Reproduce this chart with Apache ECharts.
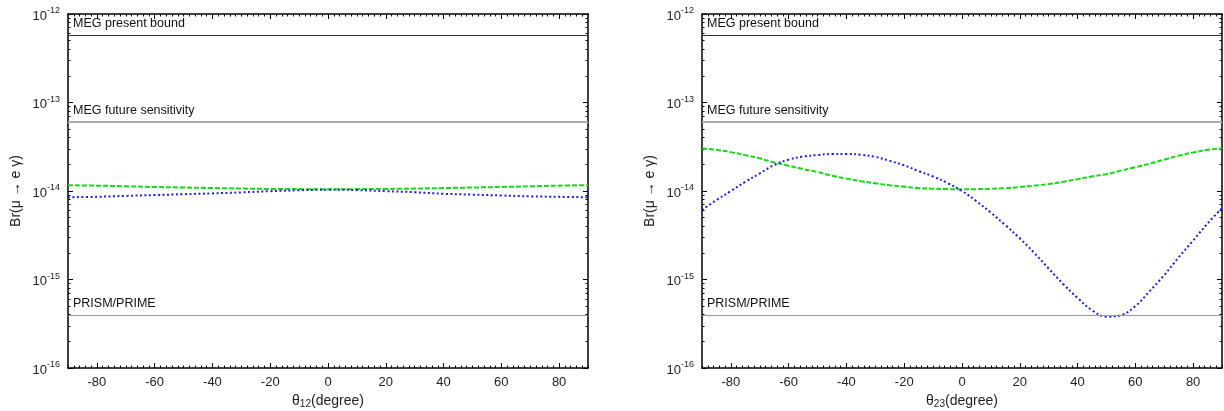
<!DOCTYPE html>
<html><head><meta charset="utf-8">
<script src="https://cdn.jsdelivr.net/npm/echarts@6/dist/echarts.min.js"></script>
<style>html,body{margin:0;padding:0;background:#fff}#c{width:1224px;height:411px}</style>
</head><body><div id="c"></div>
<script>
// ---- data ----
const theta12 = [-90,-80,-70,-60,-50,-40,-30,-20,-10,0,10,20,30,40,50,60,70,80,90];
const leftGreen = [1.16e-14,1.15e-14,1.13e-14,1.11e-14,1.095e-14,1.08e-14,1.065e-14,1.055e-14,1.05e-14,1.045e-14,1.05e-14,1.055e-14,1.065e-14,1.08e-14,1.095e-14,1.11e-14,1.13e-14,1.15e-14,1.165e-14];
const leftBlue  = [8.5e-15,8.6e-15,8.8e-15,9.0e-15,9.2e-15,9.4e-15,9.65e-15,9.95e-15,1.02e-14,1.035e-14,1.025e-14,9.95e-15,9.7e-15,9.3e-15,9.1e-15,8.9e-15,8.7e-15,8.6e-15,8.5e-15];

const theta23 = [-90,-85,-80,-75,-70,-65,-60,-55,-50,-45,-40,-35,-30,-25,-20,-15,-10,-5,0,5,10,15,20,25,30,35,40,45,50,55,60,65,70,75,80,85,90];
const rightGreen = [3.03e-14,2.92e-14,2.75e-14,2.54e-14,2.34e-14,2.10e-14,1.93e-14,1.77e-14,1.64e-14,1.49e-14,1.38e-14,1.29e-14,1.22e-14,1.16e-14,1.12e-14,1.08e-14,1.06e-14,1.05e-14,1.045e-14,1.05e-14,1.06e-14,1.075e-14,1.11e-14,1.15e-14,1.20e-14,1.27e-14,1.36e-14,1.46e-14,1.55e-14,1.70e-14,1.86e-14,2.04e-14,2.26e-14,2.51e-14,2.72e-14,2.92e-14,3.03e-14];
const rightBlue = [6.1e-15,7.9e-15,1.0e-14,1.27e-14,1.58e-14,1.97e-14,2.26e-14,2.45e-14,2.55e-14,2.62e-14,2.62e-14,2.57e-14,2.43e-14,2.19e-14,1.95e-14,1.68e-14,1.46e-14,1.23e-14,1.0e-14,7.67e-15,5.69e-15,4.12e-15,2.92e-15,2.0e-15,1.33e-15,8.9e-16,6.2e-16,4.5e-16,3.8e-16,3.95e-16,5.0e-16,7.4e-16,1.12e-15,1.78e-15,2.75e-15,4.3e-15,6.4e-15];

const boundNames  = ['MEG present bound', 'MEG future sensitivity', 'PRISM/PRIME'];
const boundValues = [5.7e-13, 6.0e-14, 4.0e-16];

const xTickLabels = [-80,-60,-40,-20,0,20,40,60,80];
const yTickExponents = [-16,-15,-14,-13,-12];
const xNames = [['\u03b8','12'], ['\u03b8','23']];
const yName = 'Br(\u03bc \u2192 e \u03b3)';

// ---- styles / helpers ----
const FONT = '"Liberation Sans", Arial, Helvetica, sans-serif';
const boundStyles = [
  {color:'#333333', width:1.2},
  {color:'#aaaaaa', width:1.8},
  {color:'#999999', width:1.2}
];
const xMinor = []; for (let v = -90; v <= 90; v += 2) xMinor.push(v);
const yMinor = [];
yTickExponents.slice(0, -1).forEach(e => { for (let k = 2; k <= 9; k++) yMinor.push(e + Math.log10(k)); });

const lg = v => Math.log10(v);
const pair = (xs, ys) => xs.map((x, i) => [x, lg(ys[i])]);

const gridLefts = [68, 702];
const grids = [], xAxes = [], yAxes = [], series = [];

gridLefts.forEach((gl, p) => {
  const gridBox = {left: gl, top: 14, width: 520, height: 354, containLabel: false, outerBoundsMode: 'none'};
  grids.push(Object.assign({}, gridBox));
  grids.push(Object.assign({}, gridBox));
  const gMain = 2 * p, gMin = 2 * p + 1;
  const axisLine = {show: true, onZero: false, lineStyle: {color: '#000', width: 1.5}};
  const noLine = {show: false, onZero: false};
  // main x axes
  xAxes.push({
    gridIndex: gMain, type: 'value', min: -90, max: 90, position: 'bottom',
    axisLine, splitLine: {show: false},
    axisTick: {show: true, inside: true, length: 5, customValues: xTickLabels, lineStyle: {color: '#000', width: 1}},
    axisLabel: {show: true, customValues: xTickLabels, fontSize: 13, color: '#222', margin: 8, fontFamily: FONT},
    name: '{a|' + xNames[p][0] + '}{s|' + xNames[p][1] + '}{a|(degree)}',
    nameLocation: 'middle', nameGap: 22,
    nameTextStyle: {fontFamily: FONT, color: '#222',
      rich: {a: {fontSize: 14, fontFamily: FONT, color: '#222'}, s: {fontSize: 10, fontFamily: FONT, color: '#222', padding: [7, 0, 0, 0]}}}
  });
  xAxes.push({
    gridIndex: gMain, type: 'value', min: -90, max: 90, position: 'top',
    axisLine, splitLine: {show: false},
    axisTick: {show: true, inside: true, length: 5, customValues: xTickLabels, lineStyle: {color: '#000', width: 1}},
    axisLabel: {show: false}
  });
  // minor x axes
  ['bottom', 'top'].forEach(pos => xAxes.push({
    gridIndex: gMin, type: 'value', min: -90, max: 90, position: pos,
    axisLine: noLine, splitLine: {show: false},
    axisTick: {show: true, inside: true, length: 2.5, customValues: xMinor, lineStyle: {color: '#000', width: 1}},
    axisLabel: {show: false}
  }));
  // main y axes
  yAxes.push({
    gridIndex: gMain, type: 'value', min: -16, max: -12, interval: 1, position: 'left',
    axisLine, splitLine: {show: false},
    axisTick: {show: true, inside: true, length: 5, lineStyle: {color: '#000', width: 1}},
    axisLabel: {show: true, margin: 8, fontFamily: FONT,
      formatter: v => '{b|10}{s|' + v + '}',
      rich: {b: {fontSize: 13, color: '#222', fontFamily: FONT, padding: [4, 0, 0, 0]}, s: {fontSize: 9, color: '#222', fontFamily: FONT, padding: [0, 0, 6, 0]}}},
    name: yName, nameLocation: 'middle', nameGap: 45,
    nameTextStyle: {fontSize: 14, color: '#222', fontFamily: FONT}
  });
  yAxes.push({
    gridIndex: gMain, type: 'value', min: -16, max: -12, interval: 1, position: 'right',
    axisLine, splitLine: {show: false},
    axisTick: {show: true, inside: true, length: 5, lineStyle: {color: '#000', width: 1}},
    axisLabel: {show: false}
  });
  ['left', 'right'].forEach(pos => yAxes.push({
    gridIndex: gMin, type: 'value', min: -16, max: -12, position: pos,
    axisLine: noLine, splitLine: {show: false},
    axisTick: {show: true, inside: true, length: 2.5, customValues: yMinor, lineStyle: {color: '#000', width: 1}},
    axisLabel: {show: false}
  }));

  const xi = 4 * p, yi = 4 * p;
  // bound lines
  series.push({
    type: 'line', xAxisIndex: xi, yAxisIndex: yi, data: [], silent: true, z: 1,
    markLine: {
      symbol: 'none', silent: true, animation: false,
      data: boundNames.map((n, i) => ({
        name: n, yAxis: lg(boundValues[i]),
        lineStyle: {color: boundStyles[i].color, width: boundStyles[i].width, type: 'solid'},
        label: {show: true, position: 'insideStartTop', formatter: '{b}', color: '#111', fontSize: 12.5, fontFamily: FONT, distance: 5}
      }))
    }
  });
  const xs = p === 0 ? theta12 : theta23;
  const g = p === 0 ? leftGreen : rightGreen;
  const b = p === 0 ? leftBlue : rightBlue;
  series.push({
    type: 'line', xAxisIndex: xi, yAxisIndex: yi, data: pair(xs, g), smooth: 0.4,
    showSymbol: false, silent: true, z: 3,
    lineStyle: {color: '#11dd11', width: 2, type: [5, 2]}
  });
  series.push({
    type: 'line', xAxisIndex: xi, yAxisIndex: yi, data: pair(xs, b), smooth: 0.4,
    showSymbol: false, silent: true, z: 4,
    lineStyle: {color: '#1c1cf0', width: 2, type: [2, 2.5]}
  });
});

const chart = echarts.init(document.getElementById('c'), null, {renderer: 'canvas'});
chart.setOption({
  backgroundColor: '#fff',
  animation: false,
  grid: grids, xAxis: xAxes, yAxis: yAxes, series
});
</script></body></html>
